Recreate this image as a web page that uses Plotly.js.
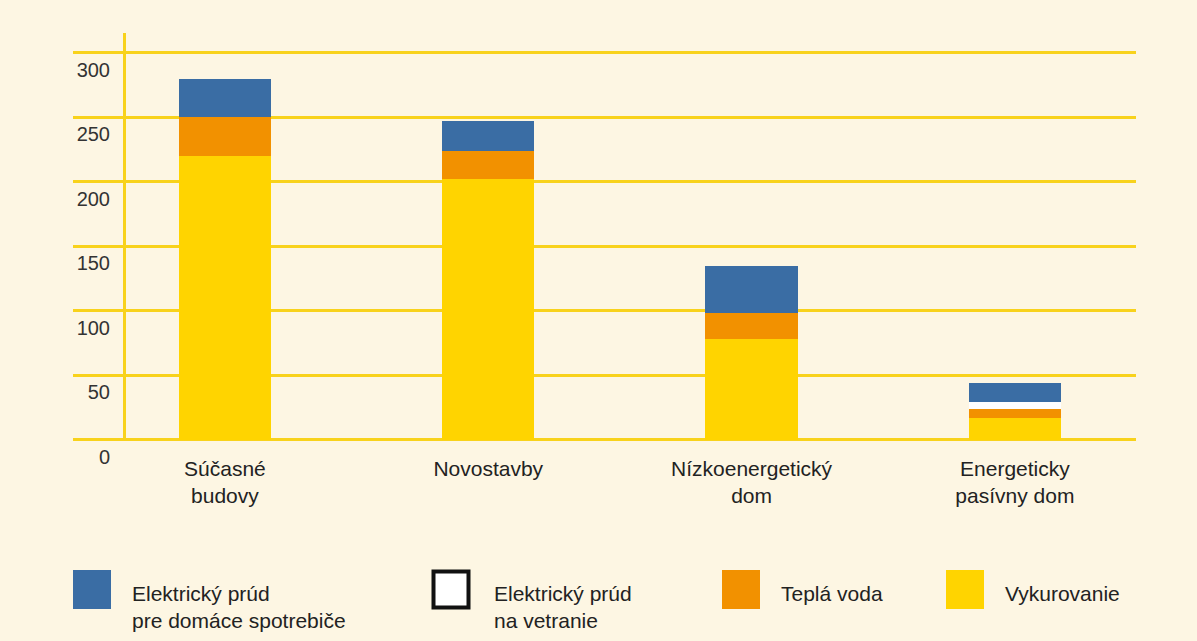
<!DOCTYPE html>
<html>
<head>
<meta charset="utf-8">
<script src="https://cdn.plot.ly/plotly-3.0.1.min.js"></script>
<style>
  html, body { margin: 0; padding: 0; background: #FDF6E3; }
  #chart { width: 1197px; height: 641px; }
</style>
</head>
<body>
<div id="chart"></div>
<script>
// ---- data ----
const categories = ["Súčasné<br>budovy", "Novostavby", "Nízkoenergetický<br>dom", "Energeticky<br>pasívny dom"];
const seriesNames = ["Vykurovanie", "Teplá voda", "Elektrický prúd<br>na vetranie", "Elektrický prúd<br>pre domáce spotrebiče"];
const vykurovanie = [220, 202, 78, 17];
const teplaVoda = [30, 22, 20, 7];
const vetranie = [0, 0, 0, 5.5];
const spotrebice = [30, 23, 37, 14.5];
const yTickVals = [0, 50, 100, 150, 200, 250, 300];
const yTickText = ["0", "50", "100", "150", "200", "250", "300"];

// ---- styles ----
const colors = ["#FFD400", "#F29100", "#FFFFFF", "#3A6DA4"];
const gridColor = "#F8D21C";
const bg = "#FDF6E3";
const font = "Liberation Sans, Arial, sans-serif";
const seriesValues = [vykurovanie, teplaVoda, vetranie, spotrebice];

const traces = seriesValues.map((vals, i) => ({
  type: "bar",
  name: seriesNames[i],
  x: categories,
  y: vals,
  marker: { color: colors[i], line: { width: 0 } },
  showlegend: false,
  hoverinfo: "skip"
}));

// plot area pixel geometry
const L = 73, R = 1136, T = 33, B = 441;
const fx = px => (px - L) / (R - L);
const fy = py => (B - py) / (B - T);

// custom legend (large swatches as in the reference)
const legendOrder = [3, 2, 1, 0];
const swatchX = [73, 432, 722, 946];
const textX = [130, 492, 779, 1003];
const shapes = [];
const annotations = [];
legendOrder.forEach((si, k) => {
  const isWhite = colors[si] === "#FFFFFF";
  shapes.push({
    type: "rect", xref: "paper", yref: "paper",
    x0: fx(swatchX[k] + (isWhite ? 1.5 : 0)), x1: fx(swatchX[k] + 38 - (isWhite ? 1.5 : 0)),
    y0: fy(570 + (isWhite ? 1.5 : 0)), y1: fy(609 - (isWhite ? 1.5 : 0)),
    fillcolor: colors[si],
    line: { color: isWhite ? "#111111" : colors[si], width: isWhite ? 4 : 0 }
  });
  annotations.push({
    xref: "paper", yref: "paper",
    x: fx(textX[k]), y: fy(580),
    xanchor: "left", yanchor: "top", align: "left",
    showarrow: false,
    text: seriesNames[si],
    font: { family: font, size: 21, color: "#222222" }
  });
});

const layout = {
  width: 1197, height: 641,
  margin: { l: L, r: 1197 - R, t: T, b: 641 - B, pad: 0 },
  paper_bgcolor: bg,
  plot_bgcolor: bg,
  barmode: "stack",
  bargap: 0.65,
  showlegend: false,
  xaxis: {
    type: "category",
    range: [-0.577, 3.46],
    showgrid: false, zeroline: false, showline: false,
    ticks: "",
    ticklabelstandoff: 13,
    tickfont: { family: font, size: 21, color: "#222222" }
  },
  yaxis: {
    range: [-1, 315.5],
    anchor: "free",
    position: fx(124),
    showline: true, linecolor: gridColor, linewidth: 3,
    showgrid: true, gridcolor: gridColor, gridwidth: 3,
    zeroline: false,
    tickmode: "array", tickvals: yTickVals, ticktext: yTickText,
    ticks: "",
    ticklabelshift: 17,
    ticklabelstandoff: 9,
    tickfont: { family: font, size: 20, color: "#333333" }
  },
  shapes: shapes,
  annotations: annotations
};

Plotly.newPlot("chart", traces, layout, { displayModeBar: false, staticPlot: true });
</script>
</body>
</html>
